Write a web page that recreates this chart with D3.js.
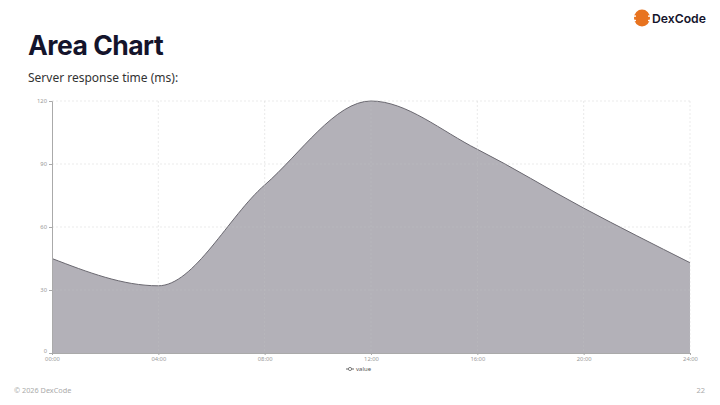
<!DOCTYPE html>
<html><head><meta charset="utf-8">
<script src="https://cdn.jsdelivr.net/npm/d3@7"></script>
<style>body{margin:0;background:#fff;}svg{display:block;}</style>
</head><body>
<svg id="c" width="720" height="405"></svg>
<script>
const hours = [0, 4, 8, 12, 16, 20, 24];
const values = [45, 32, 80, 120, 97, 69, 43];
const xTickLabels = ["00:00","04:00","08:00","12:00","16:00","20:00","24:00"];
const yTicks = [0, 30, 60, 90, 120];
const seriesName = "value";

const svg = d3.select("#c");
const m = {l:52, r:690, t:101, b:353};
const x = d3.scaleLinear().domain([0,24]).range([m.l, m.r]);
const y = d3.scaleLinear().domain([0,120]).range([m.b, m.t]);
const data = hours.map((h,i)=>({h, v: values[i]}));

// Title
svg.append("text").attr("x",28).attr("y",55).text("Area Chart")
  .attr("font-family","Inter").attr("font-weight",700).attr("font-size",26.5).attr("fill","#14142b").attr("letter-spacing","-0.5");
svg.append("text").attr("x",28).attr("y",82).text("Server response time (ms):")
  .attr("font-family","Noto Sans").attr("font-size",12).attr("fill","#333");

// Logo
const lg = svg.append("g").attr("transform","translate(642,18)");
lg.append("ellipse").attr("rx",8).attr("ry",8.5).attr("fill","#e8731f");
lg.append("rect").attr("x",-10).attr("y",-2.6).attr("width",4).attr("height",1.4).attr("fill","#fff");
lg.append("rect").attr("x",6).attr("y",-2.6).attr("width",4).attr("height",1.4).attr("fill","#fff");
lg.append("rect").attr("x",-10).attr("y",1.8).attr("width",4).attr("height",1.4).attr("fill","#fff");
lg.append("rect").attr("x",6).attr("y",1.8).attr("width",4).attr("height",1.4).attr("fill","#fff");
svg.append("text").attr("x",652).attr("y",23).text("DexCode")
  .attr("font-family","Inter").attr("font-weight",600).attr("font-size",12.2).attr("fill","#14142b");

// Area
const area = d3.area().x(d=>x(d.h)).y0(y(0)).y1(d=>y(d.v)).curve(d3.curveMonotoneX);
const line = d3.line().x(d=>x(d.h)).y(d=>y(d.v)).curve(d3.curveMonotoneX);
svg.append("path").datum(data).attr("d",area).attr("fill","#b3b1b8");
svg.append("path").datum(data).attr("d",line).attr("fill","none").attr("stroke","#6a6870").attr("stroke-width",1);

// Grid
const grid = svg.append("g").attr("stroke","#c4c4c4").attr("stroke-dasharray","2,2").attr("stroke-width",0.5).attr("opacity",0.7);
yTicks.forEach(t=>{ if(t>0) grid.append("line").attr("x1",m.l).attr("x2",m.r).attr("y1",y(t)).attr("y2",y(t)); });
hours.forEach(h=>{ if(h>0) grid.append("line").attr("x1",x(h)).attr("x2",x(h)).attr("y1",m.t).attr("y2",m.b); });

// Axes
const yAxis = svg.append("g").attr("transform",`translate(${m.l},0)`)
  .call(d3.axisLeft(y).tickValues(yTicks).tickSize(3).tickPadding(2));
const xAxis = svg.append("g").attr("transform",`translate(0,${m.b})`)
  .call(d3.axisBottom(x).tickValues(hours).tickFormat((d,i)=>xTickLabels[i]).tickSize(2).tickPadding(2));
[yAxis,xAxis].forEach(a=>{
  a.selectAll("path,line").attr("stroke","#aaa");
  a.selectAll("text").attr("fill","#999").attr("font-family","Noto Sans").attr("font-size",5.8);
});
yAxis.selectAll("text").attr("dy",d=>d===0?"-0.1em":"0.2em");

// Legend
const leg = svg.append("g").attr("transform","translate(350,369)");
leg.append("line").attr("x1",-4).attr("x2",4).attr("stroke","#666").attr("stroke-width",1);
leg.append("circle").attr("r",1.6).attr("fill","#fff").attr("stroke","#666").attr("stroke-width",0.8);
leg.append("text").attr("x",6).attr("y",2).text(seriesName).attr("font-family","Noto Sans").attr("font-size",6).attr("fill","#555");

// Footer
svg.append("text").attr("x",14).attr("y",393).text("© 2026 DexCode")
  .attr("font-family","Noto Sans").attr("font-size",7.3).attr("fill","#aaa");
svg.append("text").attr("x",705).attr("y",393).attr("text-anchor","end").text("22")
  .attr("font-family","Noto Sans").attr("font-size",7.5).attr("fill","#aaa");
</script>
</body></html>
